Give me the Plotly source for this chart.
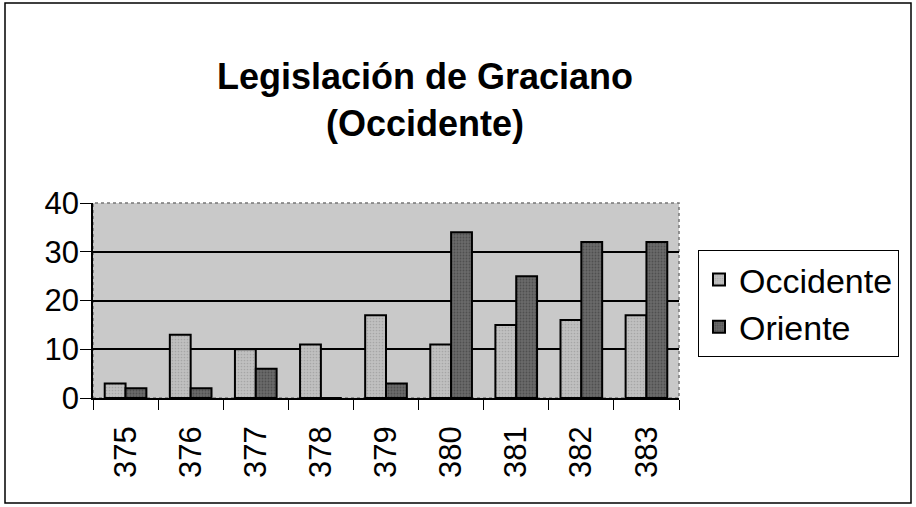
import plotly.graph_objects as go

years = ["375", "376", "377", "378", "379", "380", "381", "382", "383"]
occidente = [3, 13, 10, 11, 17, 11, 15, 16, 17]
oriente = [2, 2, 6, 0, 3, 34, 25, 32, 32]
y_ticks = [0, 10, 20, 30, 40]

W, H = 916, 507
L, R, T, B = 93, 237, 203, 109
pw = W - L - R
ph = H - T - B

def px(x):
    return (x - L) / pw

def py(y):
    return (H - B - y) / ph

FONT = "Liberation Sans, Arial, sans-serif"

fig = go.Figure()
fig.add_trace(go.Bar(
    x=years, y=occidente, name="Occidente",
    marker=dict(color="#bdbdbd", line=dict(color="black", width=2),
                pattern=dict(shape=".", fgcolor="#8c8c8c", bgcolor="#c0c0c0", size=3, solidity=0.25)),
))
fig.add_trace(go.Bar(
    x=years, y=oriente, name="Oriente",
    marker=dict(color="#5a5a5a", line=dict(color="black", width=2),
                pattern=dict(shape=".", fgcolor="#333333", bgcolor="#6a6a6a", size=3, solidity=0.3)),
))

fig.update_layout(
    width=W, height=H,
    margin=dict(l=L, r=R, t=T, b=B, autoexpand=False),
    paper_bgcolor="white",
    plot_bgcolor="#c9c9c9",
    barmode="group",
    bargap=0.36,
    bargroupgap=0,
    font=dict(family=FONT, color="black", size=30),
    title=dict(
        text="<b>Legislación de Graciano<br>(Occidente)</b>",
        x=425 / W, xanchor="center",
        y=1 - 89 / H, yanchor="middle",
        font=dict(family=FONT, size=36, color="black"),
    ),
    legend=dict(
        x=px(698), y=py(250), xanchor="left", yanchor="top",
        bordercolor="black", borderwidth=1, bgcolor="white",
        font=dict(family=FONT, size=34, color="black"),
        tracegroupgap=0,
    ),
    xaxis=dict(
        type="category",
        tickson="boundaries",
        ticks="outside", ticklen=10, tickcolor="black", tickwidth=1,
        showline=True, linecolor="black", linewidth=1.5,
        tickangle=-90,
        ticklabelstandoff=14,
        showgrid=False,
        tickfont=dict(family=FONT, size=31, color="black"),
    ),
    yaxis=dict(
        range=[0, 40],
        tickvals=y_ticks,
        ticks="outside", ticklen=11, tickcolor="black", tickwidth=1,
        showline=True, linecolor="black", linewidth=1.5,
        showgrid=True, gridcolor="black", gridwidth=1.5,
        zeroline=False,
        ticklabelstandoff=-5,
        tickfont=dict(family=FONT, size=31, color="black"),
    ),
    shapes=[
        dict(type="rect", xref="paper", yref="paper", x0=0, x1=1, y0=0, y1=1,
             line=dict(color="#777777", width=1.5, dash="dot"), layer="below"),
        dict(type="rect", xref="paper", yref="paper",
             x0=px(5), x1=px(911), y0=py(503), y1=py(3),
             line=dict(color="black", width=1.5)),
    ],
)

fig.write_html("out.html", config={"displayModeBar": False},
               post_script="document.body.style.margin='0';document.body.style.overflow='hidden';")
